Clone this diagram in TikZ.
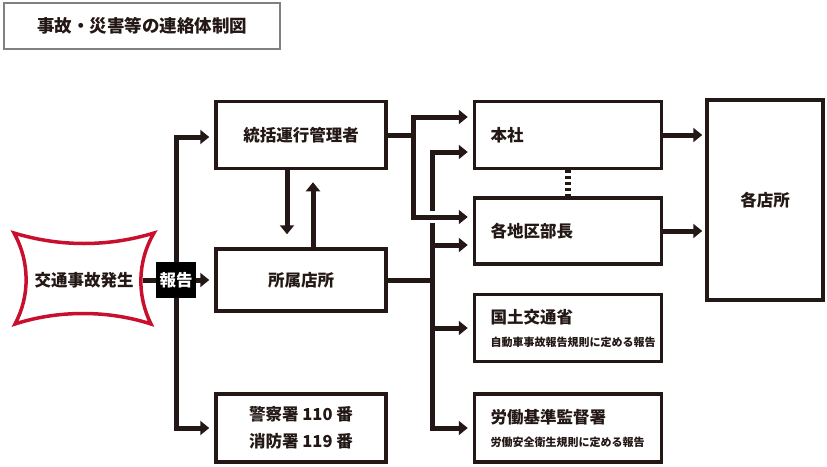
\documentclass[tikz,border=0pt]{standalone}
\usepackage{fontspec}
\setmainfont{Noto Sans CJK JP}[BoldFont={Noto Sans CJK JP Black}]
\usetikzlibrary{arrows.meta,calc,positioning}
\definecolor{sumi}{RGB}{35,24,21}
\definecolor{jikored}{RGB}{200,16,46}
\newcommand{\chuki}{\fontsize{11}{13}\selectfont}
\tikzset{
  midashi/.style={
    draw=black!50,
    line width=1.2pt,
    minimum width=276pt,
    minimum height=46pt,
    inner sep=0pt,
    text=sumi,
    font=\fontsize{17.5}{20}\selectfont\bfseries
  },
  waku/.style={
    draw=sumi,
    line width=3.5pt,
    fill=white,
    align=center,
    inner sep=0pt,
    text=sumi,
    font=\fontsize{16.5}{20}\selectfont\bfseries
  },
  hidari/.style={
    waku,
    minimum width=187pt,
    text width=155pt,
    align=left
  },
  moji/.style={
    inner sep=9pt,
    text=sumi,
    font=\fontsize{16.5}{20}\selectfont\bfseries
  },
  akawaku/.style={
    draw=jikored,
    line width=3.5pt,
    fill=white
  },
  sen/.style={
    draw=sumi,
    line width=5pt
  },
  yajirushi/.style={
    sen,
    -{Triangle[length=9pt,width=14pt]},
    shorten >=5pt
  },
  tensen/.style={
    draw=sumi,
    line width=6pt,
    dash pattern=on 3pt off 3pt
  }
}
\begin{document}
\begin{tikzpicture}[x=1pt,y=-1pt]
\useasboundingbox (0,0) rectangle (827,466);
\node[midashi] (title) at (142,26) {事故・災害等の連絡体制図};
\draw[akawaku] (14,233) .. controls (60,247) and (108,247) .. (154,233)
  .. controls (137,262) and (137,296) .. (151,324)
  .. controls (108,310) and (58,310) .. (15,324)
  .. controls (30,296) and (30,262) .. (14,233) -- cycle;
\node[moji] (jiko) at (84,280) {交通事故発生};
\node[waku,minimum width=170pt,minimum height=67pt] (tokatsu) at (301,135) {統括運行管理者};
\node[waku,minimum width=170pt,minimum height=62pt] (shozoku) at (301,280) {所属店所};
\node[waku,minimum width=170pt,minimum height=68pt] (keisatsu) at (301,428) {警察署 110 番\\[7pt]消防署 119 番};
\node[hidari,minimum height=67pt] (honsha) at (568,135) {本社};
\node[hidari,minimum height=66pt] (chiku) at (568,231) {各地区部長};
\node[hidari,minimum height=67pt] (kokudo) at (568,328) {国土交通省\\[3pt]{\chuki 自動車事故報告規則に定める報告}};
\node[hidari,minimum height=68pt] (rodo) at (568,428) {労働基準監督署\\[3pt]{\chuki 労働安全衛生規則に定める報告}};
\node[waku,minimum width=116pt,minimum height=200pt] (kakuten) at (765,200) {各店所};
\coordinate (hub) at (176,280);
\coordinate (bunki) at (413,135);
\coordinate (bunki2) at (432,280);
\coordinate (kire) at (432,211);
\coordinate (kire2) at (432,223);
\draw[yajirushi] (jiko.east) -- (shozoku.west);
\draw[yajirushi] (hub) |- ([yshift=-2pt]tokatsu.west);
\draw[yajirushi] (hub) |- (keisatsu.west);
\draw[yajirushi,shorten >=13pt] ([xshift=-14pt]tokatsu.south) -- ([xshift=-14pt]shozoku.north);
\draw[yajirushi,shorten >=12pt] ([xshift=12pt]shozoku.north) -- ([xshift=12pt]tokatsu.south);
\draw[sen] (shozoku.east) -- (bunki2);
\draw[yajirushi] (bunki2) |- ([yshift=-14pt]chiku.west);
\draw[yajirushi] (bunki2) |- (kokudo.west);
\draw[yajirushi] (bunki2) |- (rodo.west);
\draw[sen] (bunki2) -- (kire2);
\draw[yajirushi] (kire) |- ([yshift=-17pt]honsha.west);
\draw[sen] (tokatsu.east) -- (bunki);
\draw[yajirushi] (bunki) |- ([yshift=18pt]honsha.west);
\draw[yajirushi] (bunki) |- ([yshift=14pt]chiku.west);
\draw[tensen] (honsha.south) -- (chiku.north);
\draw[yajirushi,shorten >=3pt] (honsha.east) -- (honsha.east -| kakuten.west);
\draw[yajirushi,shorten >=3pt] (chiku.east) -- (chiku.east -| kakuten.west);
\node[fill=black,text=white,minimum width=40pt,minimum height=36pt,inner sep=0pt,font=\fontsize{16.5}{20}\selectfont\bfseries] (hokoku) at (hub) {報告};
\end{tikzpicture}
\end{document}
